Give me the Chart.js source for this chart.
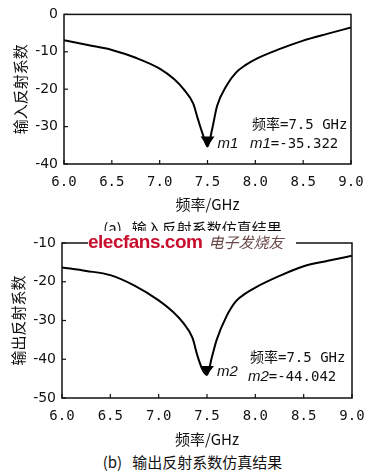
<!DOCTYPE html>
<html>
<head>
<meta charset="utf-8">
<script src="https://cdn.jsdelivr.net/npm/chart.js@4.4.1/dist/chart.umd.min.js"></script>
<style>
  html, body { margin: 0; padding: 0; background: #fff; }
  body { width: 385px; height: 476px; position: relative; overflow: hidden; font-family: "Noto Sans CJK SC", sans-serif; }
  canvas { position: absolute; left: 0; }
  #c1 { top: 0; }
  #c2 { top: 228px; }
  .cap { position: absolute; left: 0; width: 385px; text-align: center; font-size: 15px; color: #111; line-height: 18px; white-space: pre; }
  #capA { top: 219px; }
  #capB { top: 453px; }
  #wm { position: absolute; top: 231px; left: 88px; width: 208px; height: 16px; background: #fff; white-space: nowrap; line-height: 16px; }
  #wm .en { color: #c8102e; font: bold 19px "Liberation Sans", Arial, sans-serif; letter-spacing: -0.5px; }
  #wm .cn { color: #6a4a4a; font: italic 15px "Noto Sans CJK SC", sans-serif; margin-left: 6px; }
</style>
</head>
<body>
<canvas id="c1" width="385" height="215"></canvas>
<canvas id="c2" width="385" height="222"></canvas>
<div class="cap" id="capA">(a)   输入反射系数仿真结果</div>
<div id="wm"><span class="en">elecfans.com</span><span class="cn">电子发烧友</span></div>
<div class="cap" id="capB">(b)   输出反射系数仿真结果</div>
<script>
const freq = [6.0, 6.25, 6.5, 6.75, 7.0, 7.15, 7.25, 7.35, 7.4, 7.45, 7.5, 7.55, 7.6, 7.7, 7.8, 7.9, 8.0, 8.25, 8.5, 8.75, 9.0]
const s11 = [-6.9, -8.2, -9.5, -11.6, -14.5, -17.3, -20, -23.8, -28, -32, -35.3, -30.5, -24.5, -19, -15.5, -13.5, -12, -9.3, -7, -5.2, -3.5]
const s22 = [-16.3, -17.2, -18.3, -21, -24.8, -27.8, -30.5, -34.5, -39, -42.5, -44.04, -39.5, -35, -29, -25, -23, -21.5, -18.5, -16, -14.6, -13.3]
const xTicks = [6.0, 6.5, 7.0, 7.5, 8.0, 8.5, 9.0]
const markerFreq = 7.5
const m1Value = -35.322
const m2Value = -44.042

const monoFont = '"DejaVu Sans Mono", "Noto Sans CJK SC", monospace'

const framePlugin = {
  id: 'frame',
  afterDraw(chart, args, opts) {
    const { ctx, chartArea: a, scales } = chart
    ctx.save()
    ctx.strokeStyle = '#111'
    ctx.lineWidth = 1.5
    ctx.strokeRect(a.left, a.top, a.right - a.left, a.bottom - a.top)
    ctx.lineWidth = 1.2
    scales.x.ticks.forEach((t) => {
      const px = scales.x.getPixelForValue(t.value)
      ctx.beginPath(); ctx.moveTo(px, a.bottom); ctx.lineTo(px, a.bottom - 4); ctx.stroke()
    })
    scales.y.ticks.forEach((t) => {
      const py = scales.y.getPixelForValue(t.value)
      ctx.beginPath(); ctx.moveTo(a.left, py); ctx.lineTo(a.left + 4, py); ctx.stroke()
    })

    // marker triangle, tip on the minimum
    const mx = scales.x.getPixelForValue(opts.freq)
    const my = scales.y.getPixelForValue(opts.value)
    ctx.fillStyle = '#000'
    ctx.beginPath()
    ctx.moveTo(mx, my)
    ctx.lineTo(mx - 7, my - opts.triH)
    ctx.lineTo(mx + 7, my - opts.triH)
    ctx.closePath()
    ctx.fill()

    ctx.fillStyle = '#111'
    ctx.textBaseline = 'middle'
    ctx.font = 'italic 15px "Liberation Sans", Arial, sans-serif'
    ctx.fillText(opts.name, mx + 10, my - 3)

    ctx.font = '14px ' + monoFont
    ctx.fillText('频率=' + opts.freq.toFixed(1) + ' GHz', opts.tx, opts.ty)
    ctx.font = 'italic 15px "Liberation Sans", Arial, sans-serif'
    ctx.fillText(opts.name, opts.tx - 2, opts.ty + 19)
    const w = ctx.measureText(opts.name).width
    ctx.font = '14px ' + monoFont
    ctx.fillText('=' + opts.value.toFixed(3), opts.tx - 2 + w, opts.ty + 19)
    ctx.restore()
  },
}

function makeChart(canvas, values, cfg) {
  return new Chart(canvas, {
    type: 'line',
    data: {
      datasets: [{
        data: freq.map((f, i) => ({ x: f, y: values[i] })),
        borderColor: '#000',
        borderWidth: 2,
        pointRadius: 0,
        cubicInterpolationMode: 'monotone',
      }],
    },
    options: {
      responsive: false,
      animation: false,
      layout: { padding: { top: cfg.padTop, right: cfg.padRight, left: 0, bottom: 0 } },
      plugins: {
        legend: { display: false },
        tooltip: { enabled: false },
        frame: cfg.marker,
      },
      scales: {
        x: {
          type: 'linear',
          min: 6,
          max: 9,
          afterBuildTicks: (s) => { s.ticks = xTicks.map((v) => ({ value: v })) },
          grid: { display: false, drawTicks: false },
          border: { display: false },
          ticks: {
            color: '#111',
            padding: 10,
            font: { family: monoFont, size: 14 },
            callback: (v) => Number(v).toFixed(1),
          },
          title: {
            display: true,
            text: '频率/GHz',
            color: '#111',
            font: { family: '"Noto Sans CJK SC", sans-serif', size: 15, lineHeight: 1.2 },
            padding: { top: 0, bottom: 2 },
          },
          afterFit: (s) => { s.height = cfg.xHeight },
        },
        y: {
          min: cfg.yMin,
          max: cfg.yMax,
          ticks: {
            stepSize: 10,
            color: '#111',
            padding: 6,
            font: { family: '"DejaVu Sans", sans-serif', size: 14 },
          },
          grid: { display: false, drawTicks: false },
          border: { display: false },
          title: {
            display: true,
            text: cfg.yTitle,
            color: '#111',
            font: { family: '"Noto Sans CJK SC", sans-serif', size: 15, lineHeight: 1.2 },
            padding: { top: cfg.yTitlePad, bottom: 0 },
          },
          afterFit: (s) => { s.width = cfg.yWidth },
        },
      },
    },
    plugins: [framePlugin],
  })
}

makeChart(document.getElementById('c1'), s11, {
  padTop: 12, padRight: 34, xHeight: 51, yWidth: 64, yMin: -40, yMax: 0, yTitlePad: 11,
  yTitle: '输入反射系数',
  marker: { freq: markerFreq, value: m1Value, name: 'm1', triH: 10, tx: 252, ty: 125 },
})

makeChart(document.getElementById('c2'), s22, {
  padTop: 15, padRight: 33, xHeight: 52, yWidth: 62, yMin: -50, yMax: -10, yTitlePad: 9,
  yTitle: '输出反射系数',
  marker: { freq: markerFreq, value: m2Value, name: 'm2', triH: 9, tx: 250, ty: 130 },
})
</script>
</body>
</html>
